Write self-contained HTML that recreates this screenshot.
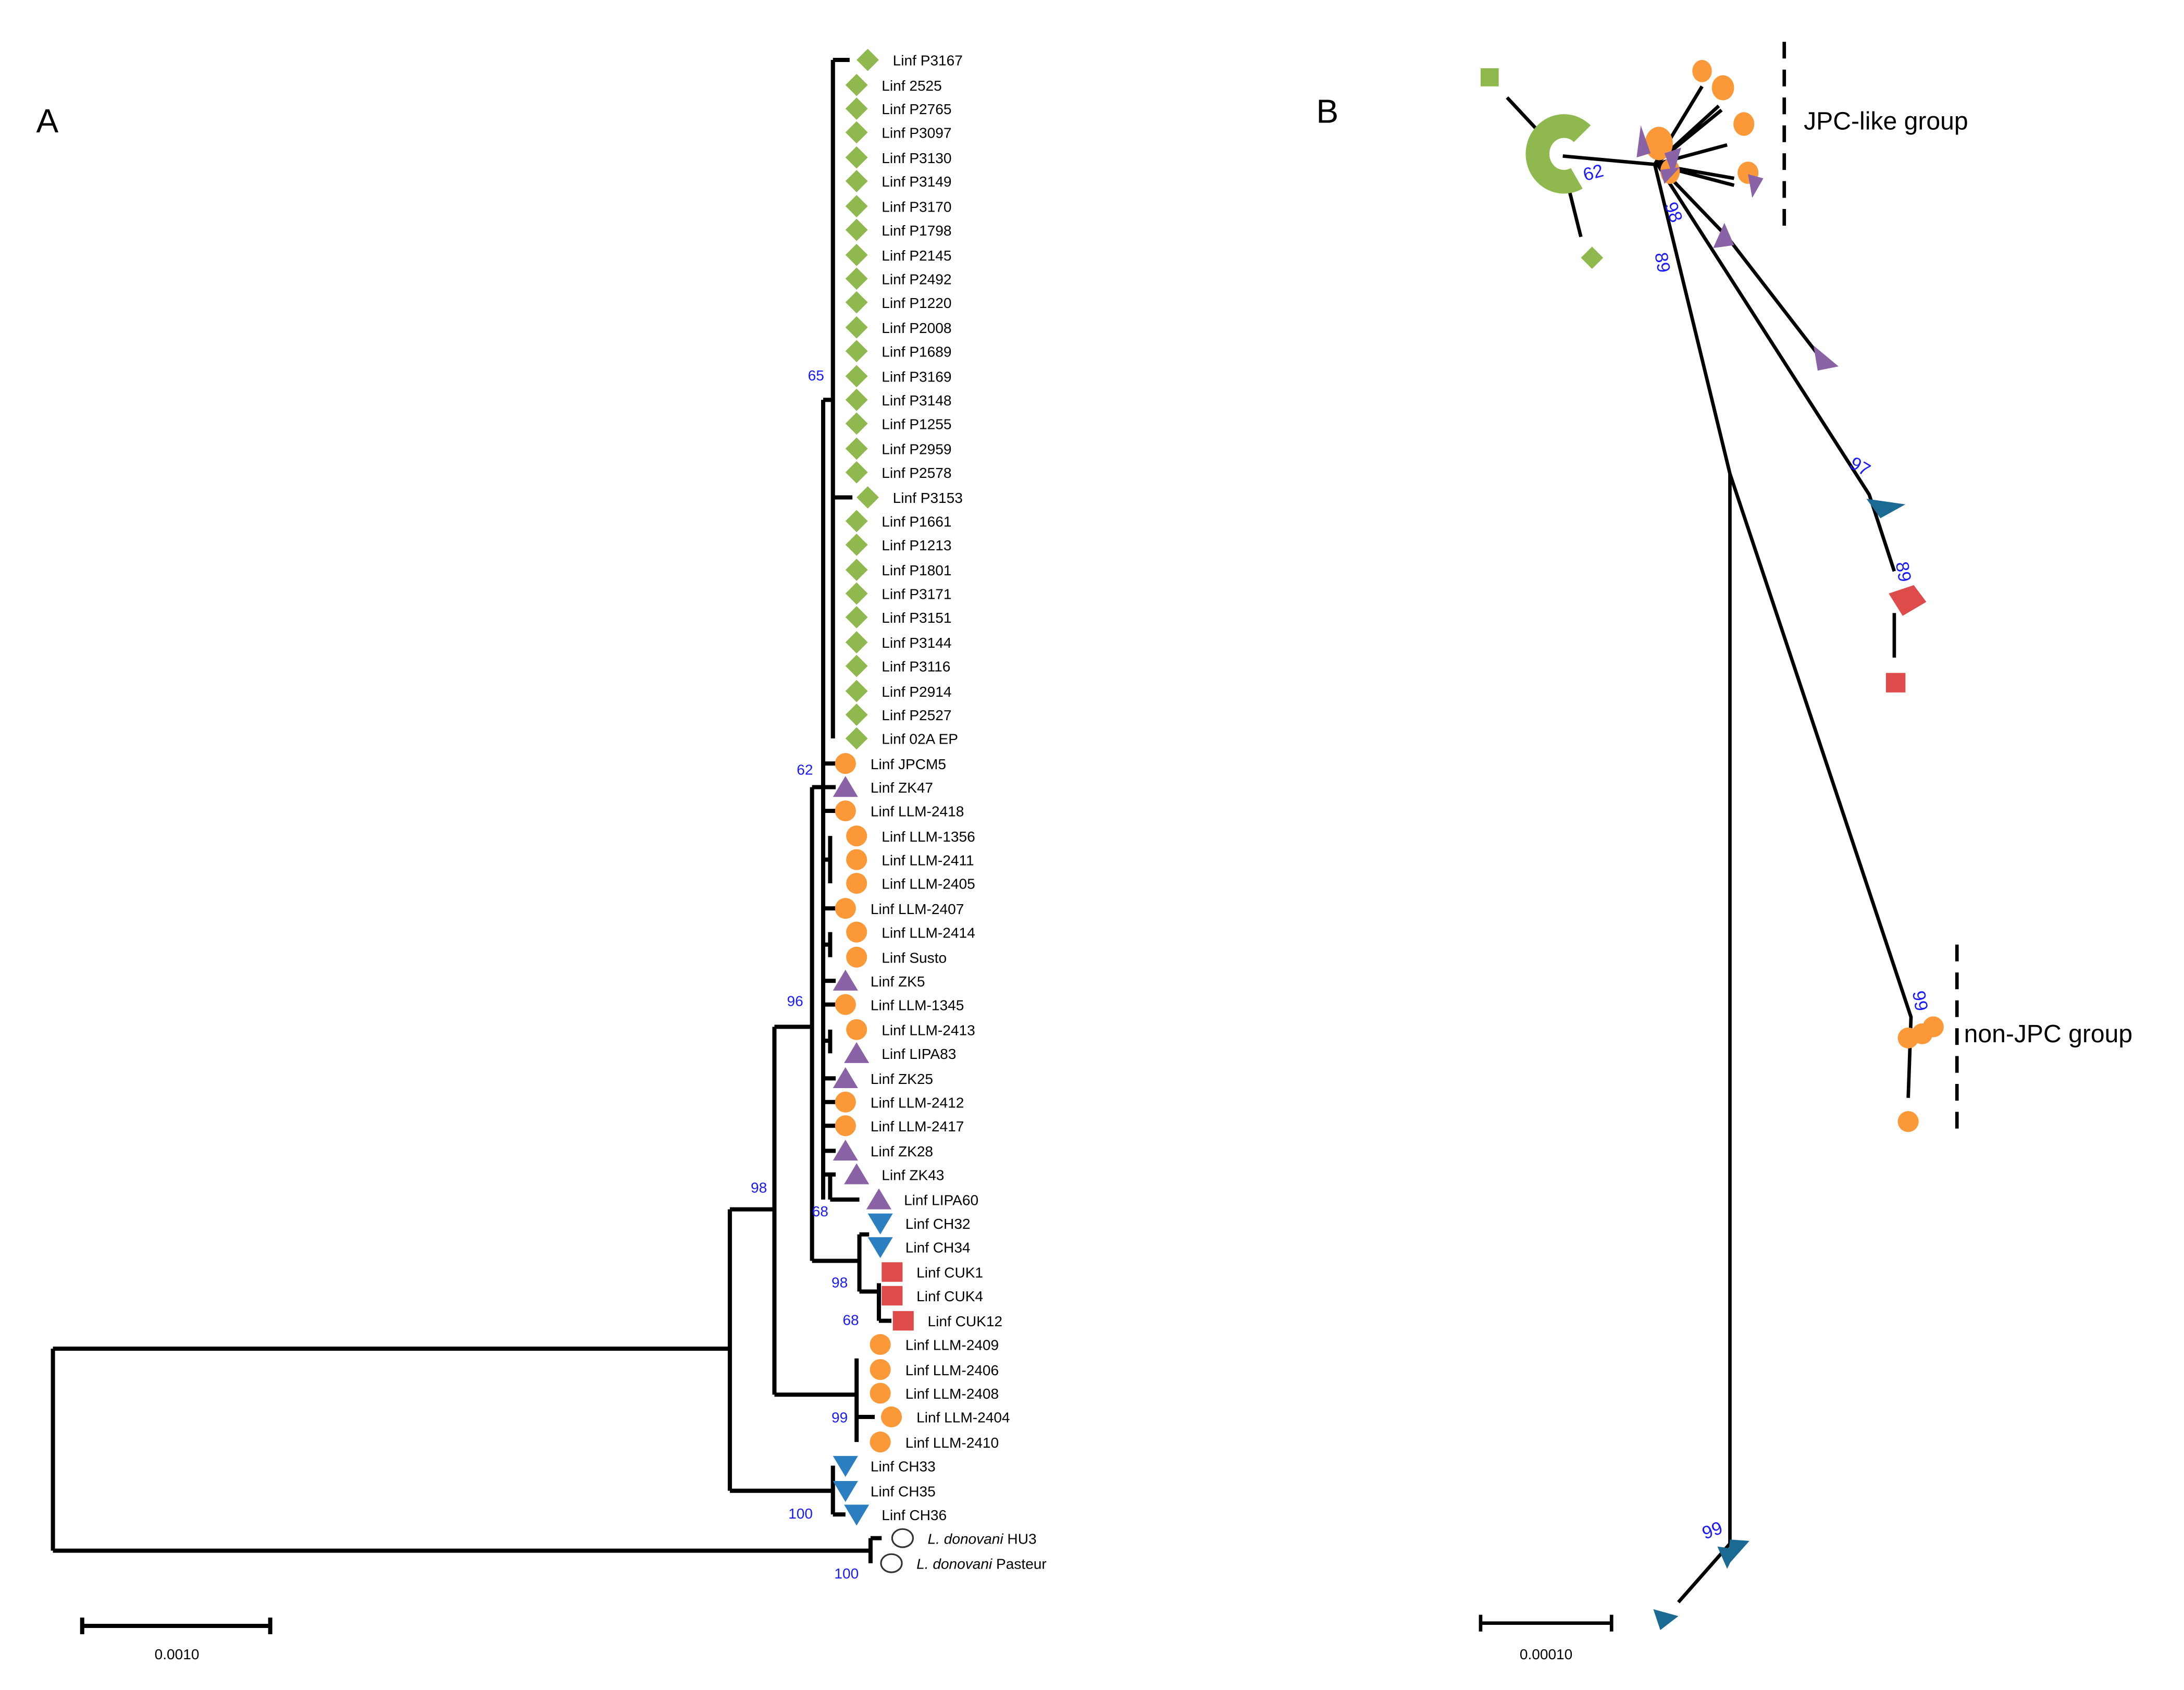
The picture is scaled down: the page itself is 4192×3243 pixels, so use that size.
<!DOCTYPE html>
<html><head><meta charset="utf-8"><style>
html,body{margin:0;padding:0;background:#fff}
svg{display:block}
text{font-family:"Liberation Sans",Arial,sans-serif}
.l{font-size:10.5px;fill:#000}
.b{font-size:10.5px;fill:#1a1aff}
.k{stroke:#000;stroke-width:3;fill:none}
.g{fill:#8fb94e}.o{fill:#fb9838}.p{fill:#8a62a6}.c{fill:#2b7fc0}.r{fill:#dd4b4b}.t{fill:#1a6a94}
</style></head><body>
<svg width="4192" height="3243" viewBox="0 0 1568 1213" preserveAspectRatio="none" xmlns="http://www.w3.org/2000/svg">
<defs>
<path id="dm" d="M0,-8 L8,0 L0,8 L-8,0Z"/>
<path id="tu" d="M0,-8 L9,7 L-9,7Z"/>
<path id="td" d="M0,8 L9,-7 L-9,-7Z"/>
</defs>
<text x="26" y="95" font-size="24">A</text>
<text x="945" y="88" font-size="24">B</text>

<g class="k">
<path d="M598,43 V530 M598,43 H610 M603,357 H612 M598,357 H603"/>
<path d="M591,287 V861 M591,287 H598 M591,548 H600 M591,565 H600 M591,582 H600 M596,600 V634 M591,617 H596 M591,652 H600 M596,669 V687 M591,678 H596 M591,704 H600 M591,721 H600 M596,739 V756 M591,747 H596 M591,774 H600 M591,791 H600 M591,808 H600 M591,826 H600 M596,843 V861 M591,843 H600 M596,861 H617"/>
<path d="M583,565 V905 M583,565 H591 M583,905 H617"/>
<path d="M617,886 V927 M617,886 H624 M617,927 H631 M631,921 V948 M631,948 H640"/>
<path d="M556,737 V1001 M556,737 H583 M556,1001 H615"/>
<path d="M615,975 V1035 M615,1017 H628"/>
<path d="M524,868 V1070 M524,868 H556 M524,1070 H598"/>
<path d="M598,1052 V1087 M598,1087 H607"/>
<path d="M38,968 V1113 M38,968 H524 M38,1113 H625"/>
<path d="M625,1104 V1122 M625,1104 H633"/>
<path d="M59,1167 H194 M59,1161 V1173 M194,1161 V1173"/>
</g>
<text x="127" y="1191" font-size="10.5" text-anchor="middle">0.0010</text>

<g>
<text class="b" x="580" y="273">65</text>
<text class="b" x="572" y="556">62</text>
<text class="b" x="565" y="722">96</text>
<text class="b" x="539" y="856">98</text>
<text class="b" x="583" y="873">68</text>
<text class="b" x="597" y="924">98</text>
<text class="b" x="605" y="951">68</text>
<text class="b" x="597" y="1021">99</text>
<text class="b" x="566" y="1090">100</text>
<text class="b" x="599" y="1133">100</text>
</g>

<g class="g">
<use href="#dm" x="623" y="43"/><use href="#dm" x="615" y="61"/><use href="#dm" x="615" y="78"/><use href="#dm" x="615" y="95"/><use href="#dm" x="615" y="113"/><use href="#dm" x="615" y="130"/><use href="#dm" x="615" y="148"/><use href="#dm" x="615" y="165"/><use href="#dm" x="615" y="183"/><use href="#dm" x="615" y="200"/><use href="#dm" x="615" y="217"/><use href="#dm" x="615" y="235"/><use href="#dm" x="615" y="252"/><use href="#dm" x="615" y="270"/><use href="#dm" x="615" y="287"/><use href="#dm" x="615" y="304"/><use href="#dm" x="615" y="322"/><use href="#dm" x="615" y="339"/><use href="#dm" x="623" y="357"/><use href="#dm" x="615" y="374"/><use href="#dm" x="615" y="391"/><use href="#dm" x="615" y="409"/><use href="#dm" x="615" y="426"/><use href="#dm" x="615" y="443"/><use href="#dm" x="615" y="461"/><use href="#dm" x="615" y="478"/><use href="#dm" x="615" y="496"/><use href="#dm" x="615" y="513"/><use href="#dm" x="615" y="530"/>
</g>
<g class="o">
<circle cx="607" cy="548" r="7.5"/><circle cx="607" cy="582" r="7.5"/><circle cx="615" cy="600" r="7.5"/><circle cx="615" cy="617" r="7.5"/><circle cx="615" cy="634" r="7.5"/><circle cx="607" cy="652" r="7.5"/><circle cx="615" cy="669" r="7.5"/><circle cx="615" cy="687" r="7.5"/><circle cx="607" cy="721" r="7.5"/><circle cx="615" cy="739" r="7.5"/><circle cx="607" cy="791" r="7.5"/><circle cx="607" cy="808" r="7.5"/>
<circle cx="632" cy="965" r="7.5"/><circle cx="632" cy="983" r="7.5"/><circle cx="632" cy="1000" r="7.5"/><circle cx="640" cy="1017" r="7.5"/><circle cx="632" cy="1035" r="7.5"/>
</g>
<g class="p">
<use href="#tu" x="607" y="565"/><use href="#tu" x="607" y="704"/><use href="#tu" x="615" y="756"/><use href="#tu" x="607" y="774"/><use href="#tu" x="607" y="826"/><use href="#tu" x="615" y="843"/><use href="#tu" x="631" y="861"/>
</g>
<g class="c">
<use href="#td" x="632" y="878"/><use href="#td" x="632" y="895"/><use href="#td" x="607" y="1052"/><use href="#td" x="607" y="1070"/><use href="#td" x="615" y="1087"/>
</g>
<g class="r">
<rect x="633" y="906" width="15" height="14"/><rect x="633" y="923" width="15" height="14"/><rect x="641" y="941" width="15" height="14"/>
</g>
<g fill="none" stroke="#333" stroke-width="1.2">
<ellipse cx="648" cy="1104" rx="7.5" ry="6.5"/><ellipse cx="640" cy="1122" rx="7.5" ry="6.5"/>
</g>

<g class="l">
<text x="641" y="47">Linf P3167</text><text x="633" y="65">Linf 2525</text><text x="633" y="82">Linf P2765</text><text x="633" y="99">Linf P3097</text><text x="633" y="117">Linf P3130</text><text x="633" y="134">Linf P3149</text><text x="633" y="152">Linf P3170</text><text x="633" y="169">Linf P1798</text><text x="633" y="187">Linf P2145</text><text x="633" y="204">Linf P2492</text><text x="633" y="221">Linf P1220</text><text x="633" y="239">Linf P2008</text><text x="633" y="256">Linf P1689</text><text x="633" y="274">Linf P3169</text><text x="633" y="291">Linf P3148</text><text x="633" y="308">Linf P1255</text><text x="633" y="326">Linf P2959</text><text x="633" y="343">Linf P2578</text><text x="641" y="361">Linf P3153</text><text x="633" y="378">Linf P1661</text><text x="633" y="395">Linf P1213</text><text x="633" y="413">Linf P1801</text><text x="633" y="430">Linf P3171</text><text x="633" y="447">Linf P3151</text><text x="633" y="465">Linf P3144</text><text x="633" y="482">Linf P3116</text><text x="633" y="500">Linf P2914</text><text x="633" y="517">Linf P2527</text><text x="633" y="534">Linf 02A EP</text>
<text x="625" y="552">Linf JPCM5</text><text x="625" y="569">Linf ZK47</text><text x="625" y="586">Linf LLM-2418</text><text x="633" y="604">Linf LLM-1356</text><text x="633" y="621">Linf LLM-2411</text><text x="633" y="638">Linf LLM-2405</text><text x="625" y="656">Linf LLM-2407</text><text x="633" y="673">Linf LLM-2414</text><text x="633" y="691">Linf Susto</text><text x="625" y="708">Linf ZK5</text><text x="625" y="725">Linf LLM-1345</text><text x="633" y="743">Linf LLM-2413</text><text x="633" y="760">Linf LIPA83</text><text x="625" y="778">Linf ZK25</text><text x="625" y="795">Linf LLM-2412</text><text x="625" y="812">Linf LLM-2417</text><text x="625" y="830">Linf ZK28</text><text x="633" y="847">Linf ZK43</text><text x="649" y="865">Linf LIPA60</text>
<text x="650" y="882">Linf CH32</text><text x="650" y="899">Linf CH34</text><text x="658" y="917">Linf CUK1</text><text x="658" y="934">Linf CUK4</text><text x="666" y="952">Linf CUK12</text>
<text x="650" y="969">Linf LLM-2409</text><text x="650" y="987">Linf LLM-2406</text><text x="650" y="1004">Linf LLM-2408</text><text x="658" y="1021">Linf LLM-2404</text><text x="650" y="1039">Linf LLM-2410</text>
<text x="625" y="1056">Linf CH33</text><text x="625" y="1074">Linf CH35</text><text x="633" y="1091">Linf CH36</text>
<text x="666" y="1108"><tspan font-style="italic">L. donovani</tspan> HU3</text><text x="658" y="1126"><tspan font-style="italic">L. donovani</tspan> Pasteur</text>
</g>

<g stroke="#000" stroke-width="2.5" fill="none">
<path d="M1082,70 L1110,100"/>
<path d="M1122,112 L1188,118"/>
<path d="M1125,130 L1135,170"/>
<path d="M1188,118 L1222,62 M1188,118 L1234,76 M1188,118 L1236,79 M1188,118 L1240,104 M1188,118 L1245,128 M1188,118 L1245,133"/>
<path d="M1190,118 L1240,170 L1308,258"/>
<path d="M1190,118 L1342,355 L1360,410 M1360,440 L1360,472"/>
<path d="M1188,118 L1242,340 L1372,730 L1370,788"/>
<path d="M1242,340 V1108 L1205,1150"/>
<path d="M1063,1165 H1157 M1063,1159 V1171 M1157,1159 V1171"/>
</g>
<path d="M1281,30 V162 M1405,678 V810" stroke="#000" stroke-width="2.5" stroke-dasharray="12,8"/>
<path d="M1136,96 A19,20 0 1 0 1132,128" stroke="#8fb94e" stroke-width="17" fill="none"/>
<rect class="g" x="1063" y="49" width="13" height="13"/>
<use href="#dm" class="g" x="1143" y="185"/>
<g class="o">
<ellipse cx="1222" cy="51" rx="7" ry="8"/><ellipse cx="1237" cy="63" rx="8" ry="9"/><ellipse cx="1252" cy="89" rx="7.5" ry="8.5"/><ellipse cx="1255" cy="124" rx="7.5" ry="8"/><ellipse cx="1191" cy="103" rx="10" ry="12"/><ellipse cx="1199" cy="123" rx="7" ry="9"/>
<circle cx="1370" cy="745" r="7.5"/><circle cx="1380" cy="742" r="7.5"/><circle cx="1388" cy="737" r="7.5"/><circle cx="1370" cy="805" r="7.5"/>
</g>
<g class="p">
<path d="M1178,90 L1185,110 L1175,113Z"/><path d="M1195,110 L1207,106 L1201,126Z"/><path d="M1192,122 L1206,120 L1195,132Z"/>
<path d="M1255,125 L1266,128 L1258,142Z"/><path d="M1238,160 L1245,176 L1230,178Z"/><path d="M1302,248 L1320,263 L1305,266Z"/>
</g>
<g class="t">
<path d="M1340,358 L1368,362 L1350,372Z"/><path d="M1242,1105 L1256,1106 L1240,1124Z"/><path d="M1233,1110 L1247,1112 L1240,1126Z"/><path d="M1187,1155 L1205,1160 L1192,1170Z"/>
</g>
<g class="r">
<path d="M1356,426 L1374,420 L1383,432 L1366,442Z"/><rect x="1354" y="483" width="14" height="14"/>
</g>
<g font-size="13" fill="#1a1aff">
<text x="1138" y="130" transform="rotate(-15 1138 130)">62</text>
<text x="1195" y="147" transform="rotate(70 1195 147)">98</text>
<text x="1188" y="182" transform="rotate(80 1188 182)">89</text>
<text x="1327" y="335" transform="rotate(30 1327 335)">97</text>
<text x="1361" y="404" transform="rotate(80 1361 404)">89</text>
<text x="1373" y="712" transform="rotate(80 1373 712)">99</text>
<text x="1224" y="1105" transform="rotate(-20 1224 1105)">99</text>
</g>
<text x="1295" y="93" font-size="18" font-family="Liberation Sans Narrow,DejaVu Sans Condensed,sans-serif">JPC-like group</text>
<text x="1410" y="748" font-size="18" font-family="Liberation Sans Narrow,DejaVu Sans Condensed,sans-serif">non-JPC group</text>
<text x="1110" y="1191" font-size="10.5" text-anchor="middle">0.00010</text>
</svg>
</body></html>
